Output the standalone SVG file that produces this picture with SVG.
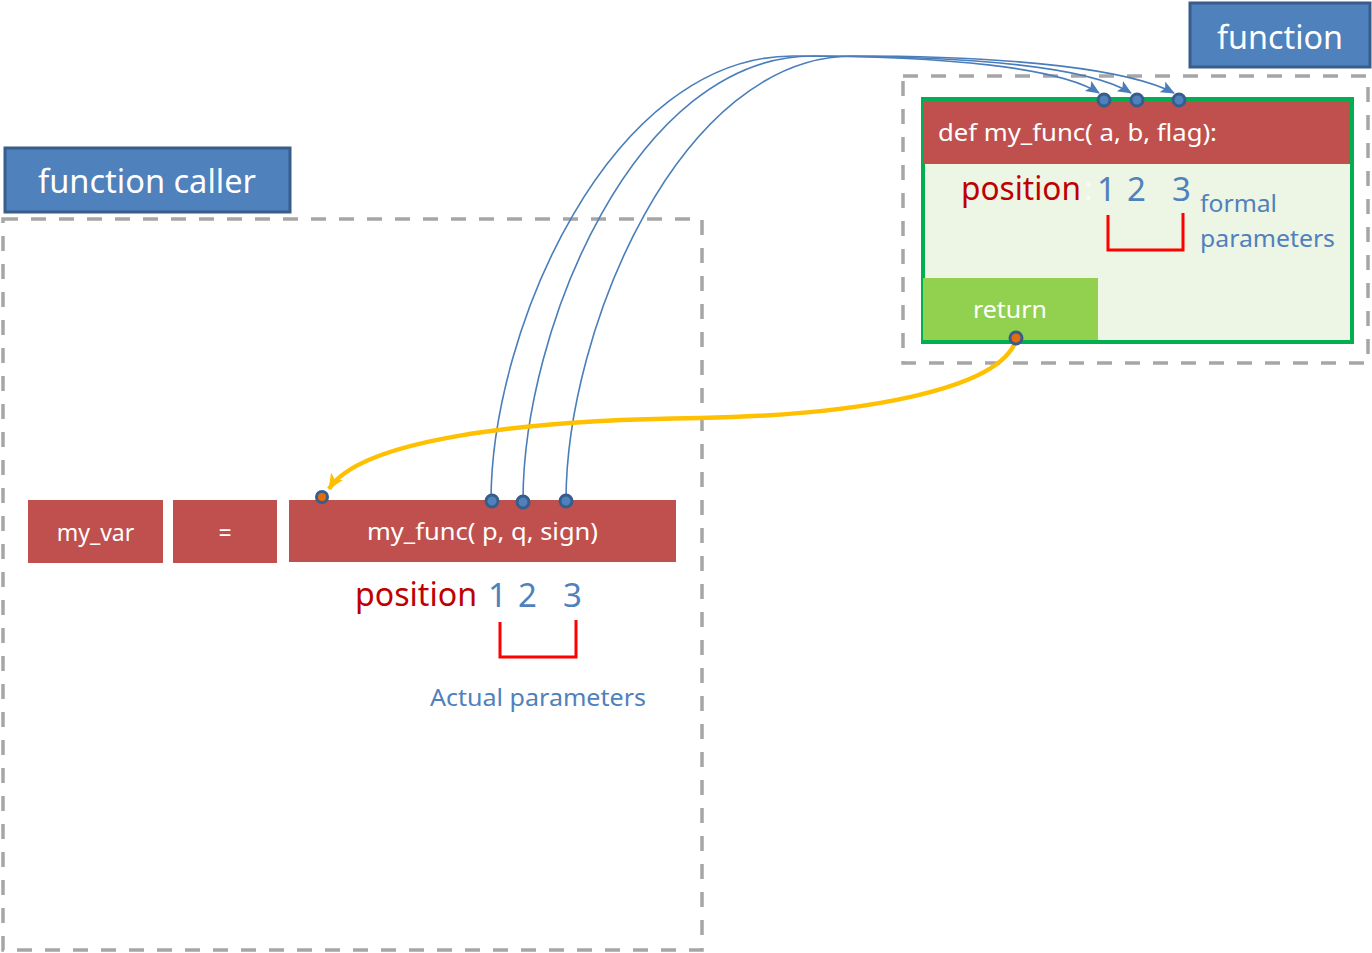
<svg xmlns="http://www.w3.org/2000/svg" width="1372" height="953" viewBox="0 0 1372 953">
<style>
text{font-family:"Noto Sans","Open Sans","Liberation Sans",sans-serif}
.dash{fill:none;stroke:#a6a6a6;stroke-width:3.5;stroke-dasharray:15 13}
.title{fill:#4f81bd;stroke:#385d8a;stroke-width:3}
.tt{fill:#fff;font-size:32px}
.red{fill:#c0504d}
.wt{fill:#fff;font-size:23px}
.pos{fill:#c00000;font-size:32px}
.num{fill:#4f81bd;font-size:33px}
.lbl{fill:#4f81bd;font-size:24px}
.br{fill:none;stroke:#ff0000;stroke-width:3}
.blue{fill:none;stroke:#4a7ebb;stroke-width:1.6}
.dot{fill:#4f81bd;stroke:#385d8a;stroke-width:3}
.odot{fill:#e46c0a;stroke:#385d8a;stroke-width:3}
</style>
<defs>
<marker id="ab" markerUnits="userSpaceOnUse" markerWidth="16" markerHeight="14" refX="13" refY="6" orient="auto">
<path d="M0,0 L14,6 L0,12 L3,6 Z" fill="#4a7ebb"/>
</marker>
<marker id="ay" markerUnits="userSpaceOnUse" markerWidth="18" markerHeight="16" refX="15" refY="7" orient="auto">
<path d="M0,0 L16,7 L0,14 L4,7 Z" fill="#ffc000"/>
</marker>
</defs>

<g id="caller-frame">
<rect class="dash" x="3" y="219" width="699" height="731"/>
</g>
<g id="function-frame">
<rect class="dash" x="903" y="76" width="465" height="287"/>
</g>

<g id="function-caller-label">
<rect class="title" x="5" y="148" width="285" height="64"/>
<text class="tt" x="38" y="193" textLength="218" lengthAdjust="spacingAndGlyphs">function caller</text>
</g>
<g id="function-label">
<rect class="title" x="1190" y="3" width="180" height="64"/>
<text class="tt" x="1217" y="49" textLength="126" lengthAdjust="spacingAndGlyphs">function</text>
</g>

<g id="function-body">
<rect x="923" y="99" width="429" height="243" fill="#edf5e4" stroke="#00b050" stroke-width="4"/>
<rect class="red" x="923" y="101" width="427" height="63"/>
<text class="wt" x="938" y="141" textLength="279" lengthAdjust="spacingAndGlyphs">def my_func( a, b, flag):</text>
<rect x="923" y="278" width="175" height="62" fill="#92d050"/>
<text class="wt" x="973" y="318" textLength="74" lengthAdjust="spacingAndGlyphs">return</text>
<text class="pos" x="961" y="200" textLength="120" lengthAdjust="spacingAndGlyphs">position</text>
<text x="1084" y="200" font-size="32" fill="#f7fbf2">:</text>
<text class="num" x="1097" y="201">1</text>
<text class="num" x="1127" y="201">2</text>
<text class="num" x="1172" y="201">3</text>
<path class="br" d="M1108,215 V250 H1183 V213"/>
<text class="lbl" x="1200" y="212" textLength="77" lengthAdjust="spacingAndGlyphs">formal</text>
<text class="lbl" x="1200" y="247" textLength="135" lengthAdjust="spacingAndGlyphs">parameters</text>
</g>

<g id="my-var">
<rect class="red" x="28" y="500" width="135" height="63"/>
<text class="wt" x="95.5" y="541" text-anchor="middle">my_var</text>
</g>
<g id="equals">
<rect class="red" x="173" y="500" width="104" height="63"/>
<text class="wt" x="225" y="541" text-anchor="middle">=</text>
</g>
<g id="call">
<rect class="red" x="289" y="500" width="387" height="62"/>
<text class="wt" x="367" y="540" textLength="231" lengthAdjust="spacingAndGlyphs">my_func( p, q, sign)</text>
<text class="pos" x="355" y="606" textLength="122" lengthAdjust="spacingAndGlyphs">position</text>
<text class="num" x="488" y="607">1</text>
<text class="num" x="518" y="607">2</text>
<text class="num" x="563" y="607">3</text>
<path class="br" d="M500,622 V657 H576 V620"/>
<text class="lbl" x="430" y="706" textLength="216" lengthAdjust="spacingAndGlyphs">Actual parameters</text>
</g>

<g id="connectors">
<path class="blue" marker-end="url(#ab)" d="M491,501 C491,330 610,56 793,56 C950,56 1060,68 1099,93"/>
<path class="blue" marker-end="url(#ab)" d="M523,501 C523,330 635,56 813,56 C980,56 1090,68 1131,93"/>
<path class="blue" marker-end="url(#ab)" d="M566,501 C566,330 680,56 853,56 C1020,56 1130,70 1174,93"/>
<path fill="none" stroke="#ffc000" stroke-width="4.5" marker-end="url(#ay)" d="M1016,340 C1000,390 860,415 700,418 C520,420 360,440 329,489"/>
</g>

<g id="ports">
<circle class="dot" cx="1104" cy="100" r="6"/>
<circle class="dot" cx="1137" cy="100" r="6"/>
<circle class="dot" cx="1179" cy="100" r="6"/>
<circle class="odot" cx="1016" cy="338" r="6"/>
<circle class="dot" cx="492" cy="501" r="6"/>
<circle class="dot" cx="523" cy="502" r="6"/>
<circle class="dot" cx="566" cy="501" r="6"/>
<circle class="odot" cx="322" cy="497" r="5.5"/>
</g>
</svg>
